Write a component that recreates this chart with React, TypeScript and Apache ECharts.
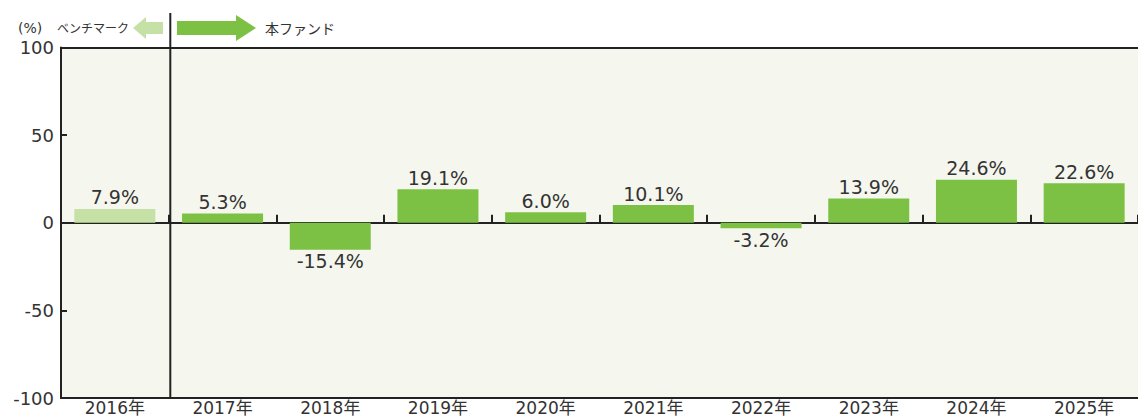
import React, { useEffect, useRef } from "react";
import * as echarts from "echarts";

const categories = ["2016年", "2017年", "2018年", "2019年", "2020年", "2021年", "2022年", "2023年", "2024年", "2025年"];
const benchmarkValues: (number | null)[] = [7.9, null, null, null, null, null, null, null, null, null];
const fundValues: (number | null)[] = [null, 5.3, -15.4, 19.1, 6.0, 10.1, -3.2, 13.9, 24.6, 22.6];
const yTicks = { min: -100, max: 100, interval: 50 };

const FONT = "'DejaVu Sans', 'Noto Sans CJK JP', sans-serif";
const JP = "'Noto Sans CJK JP', sans-serif";
const FUND = "#7dc144";
const BENCH = "#c6e1a5";
const TEXT = "#333";

export default function App() {
  const ref = useRef<HTMLDivElement>(null);
  useEffect(() => {
    if (!ref.current) return;
    const chart = echarts.init(ref.current, undefined, { renderer: "svg" });
    const gridLeft = 61;
    const gridTop = 47.5;
    const gridH = 350.5;
    const catW = 109.3;
    const gridW = catW * categories.length;

    const toItems = (arr: (number | null)[]) =>
      arr.map((v) =>
        v == null
          ? "-"
          : { value: v, label: { position: v < 0 ? "bottom" : "top" } }
      );

    const labelCfg = {
      show: true,
      distance: 2,
      fontSize: 19,
      fontFamily: FONT,
      color: TEXT,
      formatter: (p: any) => Number(p.value).toFixed(1) + "%",
    };

    const divX = gridLeft + catW;
    const ay = 28;

    chart.setOption({
      animation: false,
      grid: {
        left: gridLeft,
        top: gridTop,
        width: gridW,
        height: gridH,
        show: true,
        backgroundColor: "#f5f7ee",
        borderWidth: 0,
        containLabel: false,
      },
      xAxis: [
        {
          type: "category",
          data: categories,
          position: "bottom",
          axisLine: { onZero: false, lineStyle: { color: "#222", width: 2 } },
          axisTick: { show: false },
          axisLabel: { fontSize: 17, lineHeight: 16, fontFamily: FONT, color: TEXT, margin: 2, interval: 0 },
          splitLine: { show: false },
        },
        {
          type: "category",
          data: categories,
          position: "bottom",
          axisLine: { onZero: true, lineStyle: { color: "#222", width: 2 } },
          axisTick: { show: true, inside: true, length: 8, interval: 0, lineStyle: { color: "#222", width: 2 } },
          axisLabel: { show: false },
          splitLine: { show: false },
        },
        {
          type: "category",
          data: categories,
          position: "top",
          axisLine: { onZero: false, lineStyle: { color: "#222", width: 2 } },
          axisTick: { show: false },
          axisLabel: { show: false },
          splitLine: { show: false },
        },
      ],
      yAxis: {
        type: "value",
        min: yTicks.min,
        max: yTicks.max,
        interval: yTicks.interval,
        axisLine: { show: true, lineStyle: { color: "#222", width: 2 } },
        axisTick: { show: true, inside: true, length: 6, lineStyle: { color: "#222", width: 2 } },
        axisLabel: { fontSize: 18, fontFamily: FONT, color: TEXT, margin: 7 },
        splitLine: { show: false },
      },
      series: [
        {
          name: "ベンチマーク",
          type: "bar",
          xAxisIndex: 0,
          stack: "all",
          barWidth: 81,
          data: toItems(benchmarkValues),
          itemStyle: { color: BENCH },
          label: labelCfg,
        },
        {
          name: "本ファンド",
          type: "bar",
          xAxisIndex: 0,
          stack: "all",
          barWidth: 81,
          data: toItems(fundValues),
          itemStyle: { color: FUND },
          label: labelCfg,
        },
      ],
      graphic: [
        {
          type: "line",
          z: 100,
          shape: { x1: divX, y1: 13, x2: divX, y2: gridTop + gridH },
          style: { stroke: "#222", lineWidth: 2 },
        },
        {
          type: "text",
          x: 18,
          y: ay,
          style: { text: "(%)", fontSize: 14, fontFamily: FONT, fill: TEXT, textVerticalAlign: "middle" },
        },
        {
          type: "text",
          x: 57,
          y: ay - 1,
          style: { text: "ベンチマーク", fontSize: 12, fontFamily: JP, fill: TEXT, textVerticalAlign: "middle" },
        },
        {
          type: "polygon",
          shape: {
            points: [
              [133, ay],
              [146, ay - 11],
              [146, ay - 6],
              [163, ay - 6],
              [163, ay + 6],
              [146, ay + 6],
              [146, ay + 11],
            ],
          },
          style: { fill: BENCH },
        },
        {
          type: "polygon",
          shape: {
            points: [
              [177, ay - 7],
              [236, ay - 7],
              [236, ay - 13],
              [256, ay],
              [236, ay + 13],
              [236, ay + 7],
              [177, ay + 7],
            ],
          },
          style: { fill: FUND },
        },
        {
          type: "text",
          x: 265,
          y: ay,
          style: { text: "本ファンド", fontSize: 14, fontFamily: JP, fill: TEXT, textVerticalAlign: "middle" },
        },
      ],
    });
    return () => chart.dispose();
  }, []);
  return (
    <div
      ref={ref}
      style={{ position: "fixed", left: 0, top: 0, width: 1138, height: 418, background: "#fff" }}
    />
  );
}
